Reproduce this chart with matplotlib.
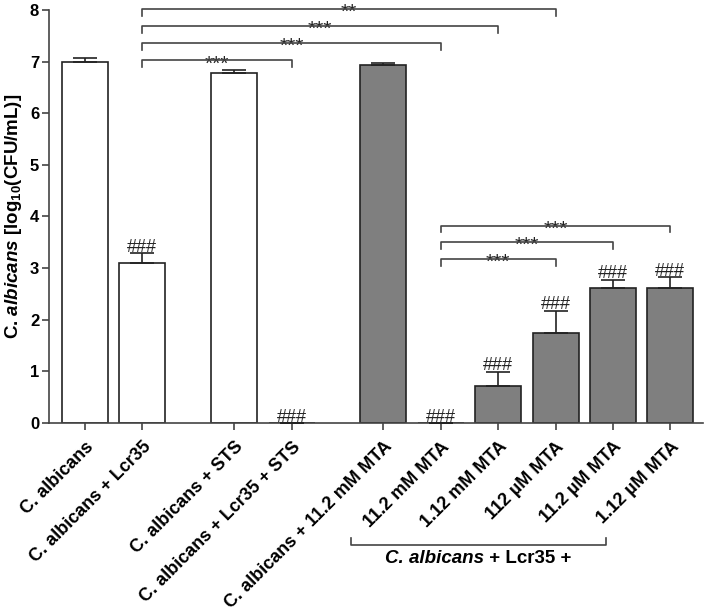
import matplotlib.pyplot as plt
import numpy as np

plt.rcParams["font.family"] = ["Liberation Sans", "DejaVu Sans"]
plt.rcParams["mathtext.fontset"] = "custom"
plt.rcParams["mathtext.rm"] = "Liberation Sans:bold"
plt.rcParams["mathtext.it"] = "Liberation Sans:italic:bold"
plt.rcParams["mathtext.bf"] = "Liberation Sans:bold"

# data
labels = [
    "C. albicans",
    "C. albicans + Lcr35",
    "C. albicans + STS",
    "C. albicans + Lcr35 + STS",
    "C. albicans + 11.2 mM MTA",
    "11.2 mM MTA",
    "1.12 mM MTA",
    "112 µM MTA",
    "11.2 µM MTA",
    "1.12 µM MTA",
]
positions = [0, 1, 2.6, 3.6, 5.2, 6.2, 7.2, 8.2, 9.2, 10.2]
means = [7.00, 3.10, 6.78, 0.0, 6.94, 0.0, 0.72, 1.75, 2.62, 2.61]
errors = [0.07, 0.19, 0.06, 0.0, 0.03, 0.0, 0.27, 0.42, 0.16, 0.21]
hash_marks = [False, True, False, True, False, True, True, True, True, True]
grey = [False, False, False, False, True, True, True, True, True, True]

# significance brackets: (from bar, to bar, height, text)
brackets = [
    (1, 7, 8.02, "**"),
    (1, 6, 7.69, "***"),
    (1, 5, 7.36, "***"),
    (1, 3, 7.02, "***"),
    (5, 9, 3.82, "***"),
    (5, 8, 3.51, "***"),
    (5, 7, 3.18, "***"),
]

fig = plt.figure(figsize=(7.08, 6.15), dpi=100)
ax = fig.add_axes([0.069, 0.312, 0.924, 0.672])

spine_c = "#444444"
colors = ["#7f7f7f" if g else "white" for g in grey]
ax.bar(positions, means, width=0.8, color=colors, edgecolor="#222222", linewidth=1.2, zorder=2)
ax.errorbar(positions, means, yerr=[np.zeros(len(errors)), errors], fmt="none",
            ecolor="#222222", elinewidth=1.2, capsize=8.5, capthick=1.2, zorder=3)

for p, m, e, h in zip(positions, means, errors, hash_marks):
    if h:
        ax.text(p, m + e + 0.03, "###", ha="center", va="baseline", fontsize=13,
                color="#222222", zorder=4)

leg = 0.13
for i, j, y, txt in brackets:
    x0, x1 = positions[i], positions[j]
    ax.plot([x0, x0, x1, x1], [y - leg, y, y, y - leg], color=spine_c, lw=1.2,
            clip_on=False, zorder=4)
    ax.text((x0 + x1) / 2, y - 0.18, txt, ha="center", va="baseline", fontsize=15,
            color="#222222", clip_on=False)

ax.set_xlim(-0.63, 10.77)
ax.set_ylim(0, 8)
ax.set_yticks(range(0, 9))
ax.set_yticklabels([str(v) for v in range(0, 9)], fontsize=12, fontweight="bold")
ax.set_xticks(positions)
ax.set_xticklabels(labels, rotation=45, ha="right", va="top", rotation_mode="anchor",
                   fontsize=13, fontweight="bold")
ax.tick_params(axis="both", length=5, width=1.2, color=spine_c, pad=2)
ax.tick_params(axis="x", pad=6)
for s in ["top", "right"]:
    ax.spines[s].set_visible(False)
for s in ["left", "bottom"]:
    ax.spines[s].set_color(spine_c)
    ax.spines[s].set_linewidth(1.2)

ax.set_ylabel(r"C. $\it{albicans}$ [log$_{10}$(CFU/mL)]", fontsize=13.5, fontweight="bold", labelpad=4)

# group bracket below tick labels
gx0 = ax.transData.transform((positions[5], 0))[0] - 90
gx1 = ax.transData.transform((positions[8], 0))[0] - 7
trans = fig.transFigure
fx0, fx1 = gx0 / fig.bbox.width, gx1 / fig.bbox.width
fy = 1 - 545 / 615
fig.lines.append(plt.Line2D([fx0, fx0, fx1, fx1], [fy + 0.012, fy, fy, fy + 0.012],
                            color=spine_c, lw=1.2, transform=trans))

# "C. albicans" in italic, the rest upright, centred under the bracket
t1 = fig.text(0, fy - 0.008, "C. albicans", ha="left", va="top", fontsize=13.5,
              fontweight="bold", fontstyle="italic")
t2 = ax.annotate(" + Lcr35 +", xy=(1, 0), xycoords=t1, ha="left", va="bottom",
                 fontsize=13.5, fontweight="bold", annotation_clip=False)
fig.canvas.draw()
r = fig.canvas.get_renderer()
w = (t1.get_window_extent(r).width + t2.get_window_extent(r).width) / fig.bbox.width
t1.set_x((fx0 + fx1) / 2 - w / 2)

fig.savefig("out.png", dpi=100)
